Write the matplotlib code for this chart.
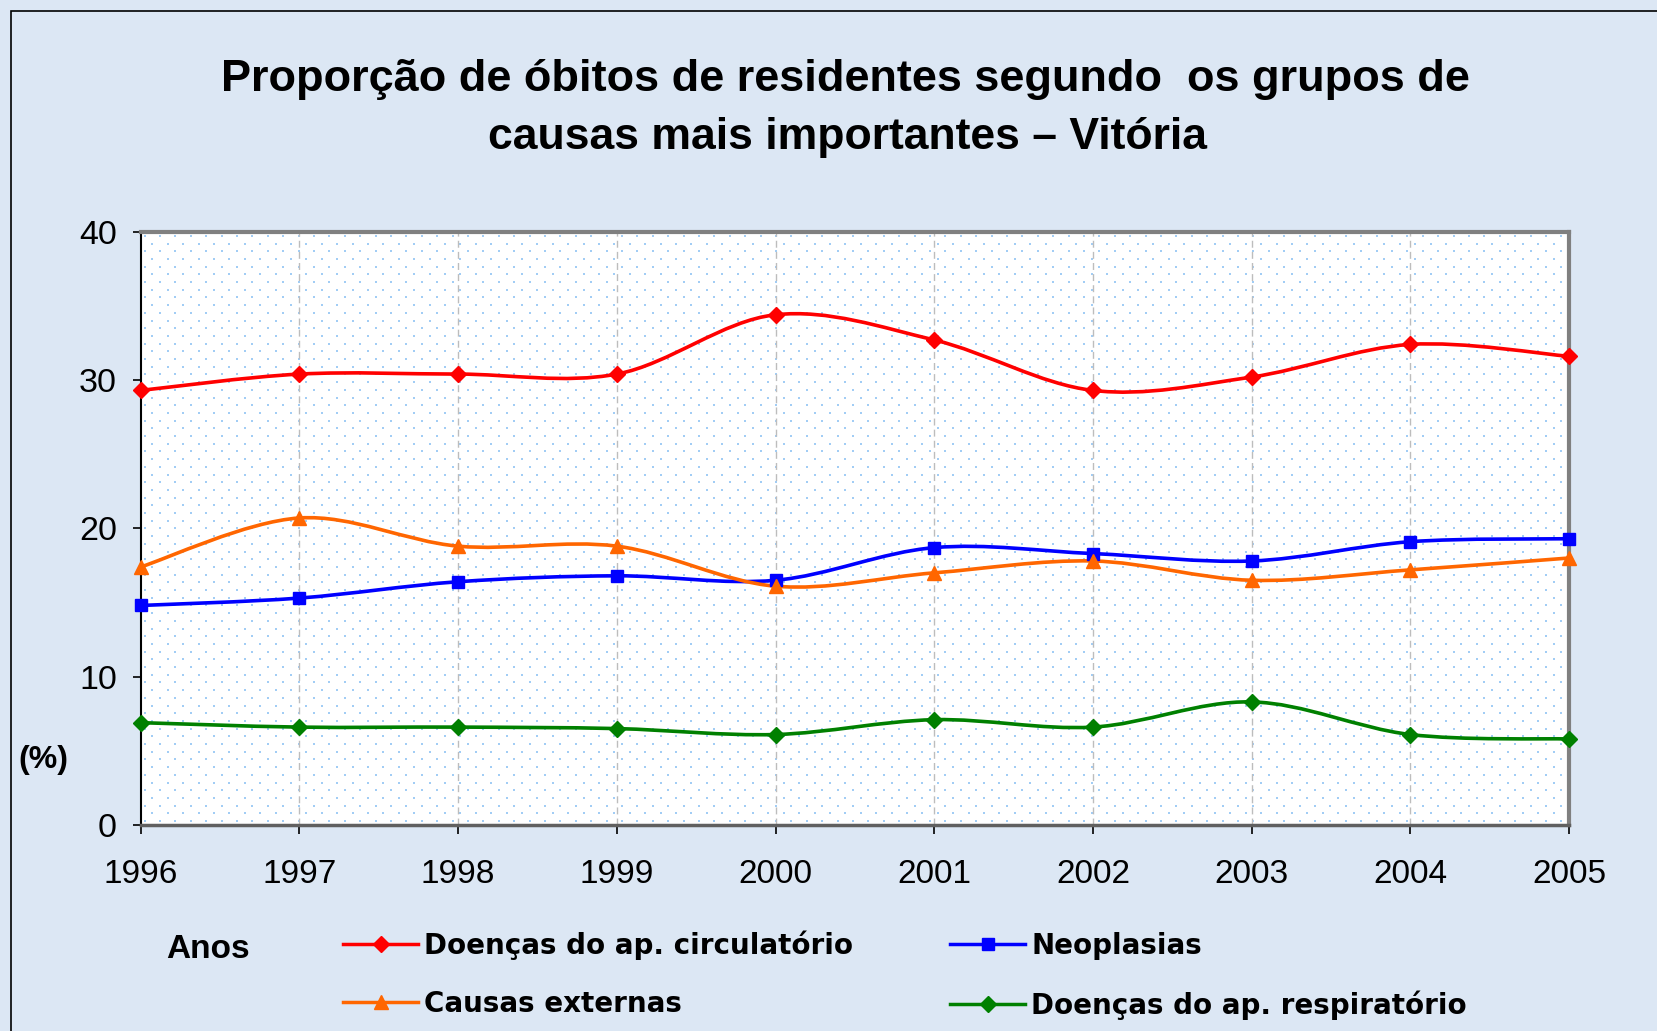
import numpy as np
import matplotlib
matplotlib.use('Agg')
import matplotlib.pyplot as plt
from matplotlib.path import Path
from matplotlib.patches import PathPatch, Rectangle
from matplotlib.lines import Line2D

# dados (%)
anos = [1996, 1997, 1998, 1999, 2000, 2001, 2002, 2003, 2004, 2005]
circulatorio = [29.3, 30.4, 30.4, 30.4, 34.4, 32.7, 29.3, 30.2, 32.4, 31.6]
neoplasias = [14.8, 15.3, 16.4, 16.8, 16.5, 18.7, 18.3, 17.8, 19.1, 19.3]
externas = [17.4, 20.7, 18.8, 18.8, 16.1, 17.0, 17.8, 16.5, 17.2, 18.0]
respiratorio = [6.9, 6.6, 6.6, 6.5, 6.1, 7.1, 6.6, 8.3, 6.1, 5.8]

nomes = ['Doenças do ap. circulatório', 'Neoplasias',
         'Causas externas', 'Doenças do ap. respiratório']
cores = ['#ff0000', '#0000ff', '#ff6600', '#008000']
marcadores = ['D', 's', '^', 'D']
tam_marc = [8.5, 8.5, 10.5, 8.5]
yticks = [0, 10, 20, 30, 40]

plt.rcParams['font.family'] = ['Liberation Sans', 'DejaVu Sans']

W, H = 1657, 1031
fig = plt.figure(figsize=(W / 100, H / 100), dpi=100)
fig.patch.set_facecolor('#dce7f4')

# moldura
fig.patches.append(Rectangle((11 / W, -0.1), 1.2, 1 - 11 / H + 0.1,
                             transform=fig.transFigure, fill=False,
                             edgecolor='black', linewidth=1.2))

ax_l, ax_b, ax_w, ax_h = 140.7, 206, 1569 - 140.7, 825 - 231.7
ax = fig.add_axes([ax_l / W, ax_b / H, ax_w / W, ax_h / H])
ax.set_facecolor('white')

# fundo pontilhado da área do gráfico (pontos alternados)
px, py = [], []
for k, yy in enumerate(np.arange(4, ax_h, 7.7)):
    xs = np.arange(4 + (k % 2) * 7.7, ax_w, 15.4)
    px += list(xs / ax_w)
    py += [yy / ax_h] * len(xs)
ax.scatter(px, py, s=2.4, marker='s', color='#a2cdf5', linewidths=0,
           transform=ax.transAxes, zorder=0.5)


def curva_suave(x, y):
    # curva suavizada (bezier estilo Excel)
    pts = np.column_stack([x, y]).astype(float)
    p = np.vstack([pts[0], pts, pts[-1]])
    verts = [pts[0]]
    codes = [Path.MOVETO]
    for i in range(1, len(p) - 2):
        c1 = p[i] + (p[i + 1] - p[i - 1]) / 6
        c2 = p[i + 1] - (p[i + 2] - p[i]) / 6
        verts += [c1, c2, p[i + 1]]
        codes += [Path.CURVE4] * 3
    return Path(verts, codes)


series = [circulatorio, neoplasias, externas, respiratorio]
for vals, cor, mk, ms in zip(series, cores, marcadores, tam_marc):
    ax.add_patch(PathPatch(curva_suave(anos, vals), facecolor='none',
                           edgecolor=cor, linewidth=2.6, zorder=3))
    ax.plot(anos, vals, linestyle='none', marker=mk, markersize=ms,
            color=cor, zorder=4, clip_on=False)

for a in anos[1:-1]:
    ax.axvline(a, color='#bdbdbd', linewidth=1, dashes=(5, 3), zorder=1)

ax.set_xlim(anos[0], anos[-1])
ax.set_ylim(0, 40)
ax.set_xticks(anos)
ax.set_yticks(yticks)
ax.tick_params(axis='y', direction='out', length=6, width=1.2, pad=11,
               labelsize=24.5, colors='black')
ax.tick_params(axis='x', direction='out', length=6.5, width=1.2, pad=18,
               labelsize=24, colors='black')

ax.spines['left'].set_color('black')
ax.spines['left'].set_linewidth(1.5)
ax.spines['bottom'].set_color('#606060')
ax.spines['bottom'].set_linewidth(2.5)
for s in ['top', 'right']:
    ax.spines[s].set_color('#808080')
    ax.spines[s].set_linewidth(3)

fig.text(845 / W, 1 - 80 / H,
         'Proporção de óbitos de residentes segundo  os grupos de',
         ha='center', va='center', fontsize=32.5, fontweight='bold')
fig.text(847 / W, 1 - 138 / H, 'causas mais importantes – Vitória',
         ha='center', va='center', fontsize=32, fontweight='bold')

fig.text(18 / W, 1 - 760 / H, '(%)', ha='left', va='center',
         fontsize=23, fontweight='bold')
fig.text(166 / W, 1 - 950 / H, 'Anos', ha='left', va='center',
         fontsize=24, fontweight='bold')

# legenda (ordem por coluna)
ordem = [0, 2, 1, 3]
handles = [Line2D([], [], color=cores[i], linewidth=2.5, marker=marcadores[i],
                  markersize=tam_marc[i]) for i in ordem]
labels = [nomes[i] for i in ordem]
fig.legend(handles, labels, loc='upper left',
           bbox_to_anchor=(343 / W, 1 - 930 / H), ncol=2, frameon=False,
           prop={'family': 'DejaVu Sans', 'weight': 'bold', 'size': 20},
           handlelength=2.7, handletextpad=0.22, columnspacing=3.5,
           labelspacing=1.1, borderpad=0, borderaxespad=0)

fig.savefig('out.png', dpi=100, facecolor=fig.get_facecolor())
